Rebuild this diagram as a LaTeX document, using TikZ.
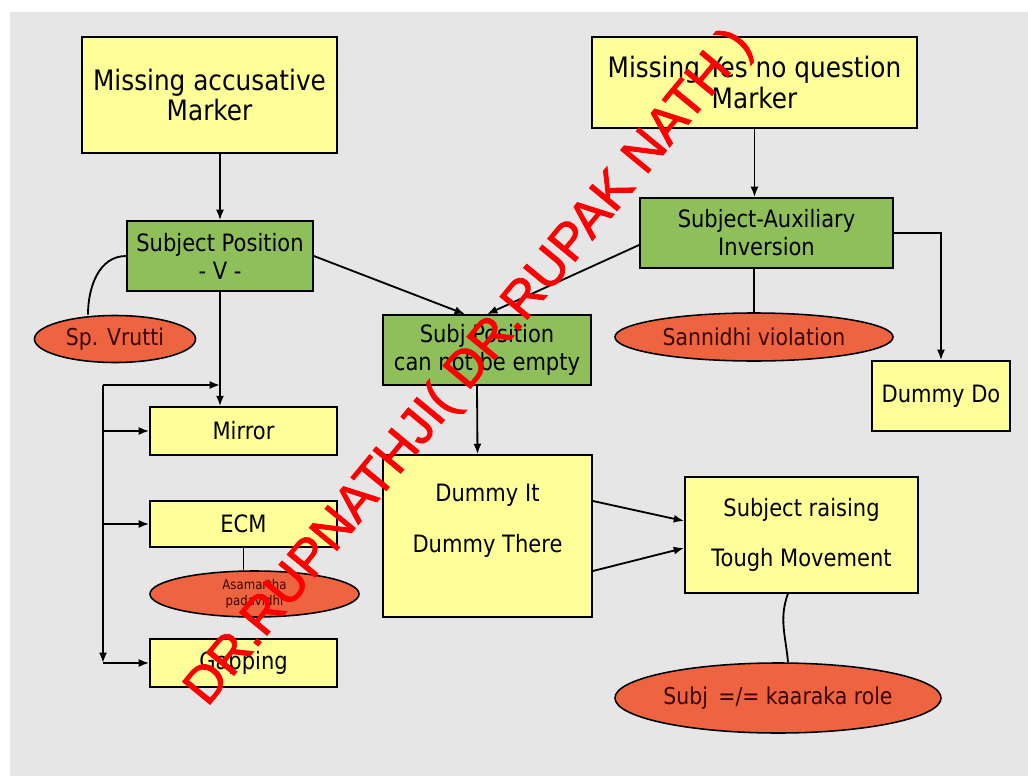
\documentclass[tikz,border=0pt]{standalone}
\usepackage{fontspec}
\setmainfont{DejaVu Sans}[FakeStretch=0.88]
\newfontfamily\markfont{Liberation Sans}[FakeBold=1.6]
\usetikzlibrary{arrows.meta,shapes.geometric}
\definecolor{boxyellow}{HTML}{FFFF99}
\definecolor{boxgreen}{HTML}{8FBF5B}
\definecolor{ovalred}{HTML}{EE6440}
\definecolor{ovaltext}{HTML}{3A0600}
\definecolor{backgray}{HTML}{E6E6E6}
\tikzset{
  box/.style={draw, line width=1.2pt, fill=boxyellow, align=center, inner sep=0pt,
    font=\fontsize{17}{20}\selectfont},
  bigbox/.style={box, font=\fontsize{20}{22}\selectfont},
  greenbox/.style={box, fill=boxgreen},
  oval/.style={ellipse, draw, line width=1.1pt, fill=ovalred, text=ovaltext, inner sep=0pt,
    align=center, font=\fontsize{16.5}{19}\selectfont},
  link/.style={line width=1.3pt},
  >={Latex[length=2.6mm,width=2mm]}
}
\begin{document}
\begin{tikzpicture}[x=0.025cm, y=-0.025cm]
	\useasboundingbox (0,0) rectangle (1028,776);
	\fill[white] (0,0) rectangle (1028,776);
	\fill[backgray] (10,12) rectangle (1028,776);
	
	% top markers
	\node[bigbox, minimum width=6.375cm, minimum height=2.9cm] (accmark) at (209.5,95) {Missing accusative\\Marker};
	\node[bigbox, minimum width=8.125cm, minimum height=2.275cm] (yesno) at (754.5,82.5) {Missing Yes no question\\Marker};
	
	% green boxes
	\node[greenbox, minimum width=4.65cm, minimum height=1.75cm] (subjpos) at (220,256) {Subject Position\\- V -};
	\node[greenbox, minimum width=6.325cm, minimum height=1.75cm] (auxinv) at (766.5,233) {Subject-Auxiliary\\Inversion};
	\node[greenbox, minimum width=5.2cm, minimum height=1.75cm] (notempty) at (487,350) {Subj Position\\can not be empty};
	
	% ovals
	\node[oval, minimum width=4.025cm, minimum height=1.175cm] (vrutti) at (115,339) {Sp. Vrutti};
	\node[oval, minimum width=6.95cm, minimum height=1.2cm] (sannidhi) at (754,337) {Sannidhi violation};
	\node[oval, minimum width=5.225cm, minimum height=1.15cm, font=\fontsize{9.5}{11}\selectfont] (asamartha) at (254.5,594) {Asamartha\\padavidhi};
	\node[oval, minimum width=8.15cm, minimum height=1.75cm] (kaaraka) at (778,698) {Subj\, =/= kaaraka role};
	
	% yellow boxes
	\node[box, minimum width=3.45cm, minimum height=1.75cm] (dummydo) at (941,396) {Dummy Do};
	\node[box, minimum width=4.675cm, minimum height=1.2cm] (mirror) at (243.5,431) {Mirror};
	\node[box, minimum width=4.675cm, minimum height=1.15cm] (ecm) at (243.5,524) {ECM};
	\node[box, minimum width=4.675cm, minimum height=1.2cm] (gapping) at (243.5,663) {Gapping};
	\node[box, minimum width=5.225cm, minimum height=4.05cm] (dummy) at (487.5,536) {};
	\node[align=center, font=\fontsize{17}{20}\selectfont] (dummytxt) at (487.5,521) {Dummy It\\[16pt]Dummy There};
	\node[box, minimum width=5.825cm, minimum height=2.9cm] (raising) at (801.5,535) {Subject raising\\[16pt]Tough Movement};
	
	% arrows
	\draw[link,->] (subjpos.north |- accmark.south) -- (subjpos.north);
	\draw[link,->] (yesno.south) -- (yesno.south |- auxinv.north);
	\draw[link,->] (subjpos.east) -- ([xshift=-0.55cm]notempty.north);
	\draw[link,->] ([yshift=-0.3cm]auxinv.west) -- (notempty.north);
	\draw[link,->] (auxinv.east) -| (dummydo.north);
	\draw[link] (auxinv.south -| sannidhi.north) -- (sannidhi.north);
	\draw[link] (subjpos.west) to[out=180, in=90] ([xshift=-0.675cm]vrutti.north);
	\draw[link,->] (subjpos.south) -- (subjpos.south |- mirror.north);
	\draw[link,->] ([xshift=-0.25cm]notempty.south) -- ([xshift=-0.25cm]dummy.north);
	\draw[link] (ecm.south) -- (ecm.south |- asamartha.north);
	\draw[link,->] ([yshift=0.875cm]dummy.east) -- ([yshift=0.35cm]raising.west);
	\draw[link,->] ([yshift=-0.875cm]dummy.east) -- ([yshift=-0.325cm]raising.west);
	\draw[link] ([xshift=-0.34cm]raising.south) to[out=-110, in=95] ([xshift=0.25cm]kaaraka.north);
	
	% loop on the left
	\coordinate (join) at (220,385);
	\coordinate (looptop) at (103,385);
	\coordinate (loopbot) at (103,663);
	\draw[link,->] (looptop) -- (join);
	\draw[link,->] (looptop) -- (loopbot);
	\draw[link,->] (looptop |- mirror.west) -- (mirror.west);
	\draw[link,->] (looptop |- ecm.west) -- (ecm.west);
	\draw[link,->] (loopbot) -- (gapping.west);
	
	% watermark
	\node[rotate=50.5, text=red, font=\markfont\fontsize{37}{37}\selectfont] (stamp) at (470,368) {DR.RUPNATHJI( DR.RUPAK NATH )};
\end{tikzpicture}
\end{document}
